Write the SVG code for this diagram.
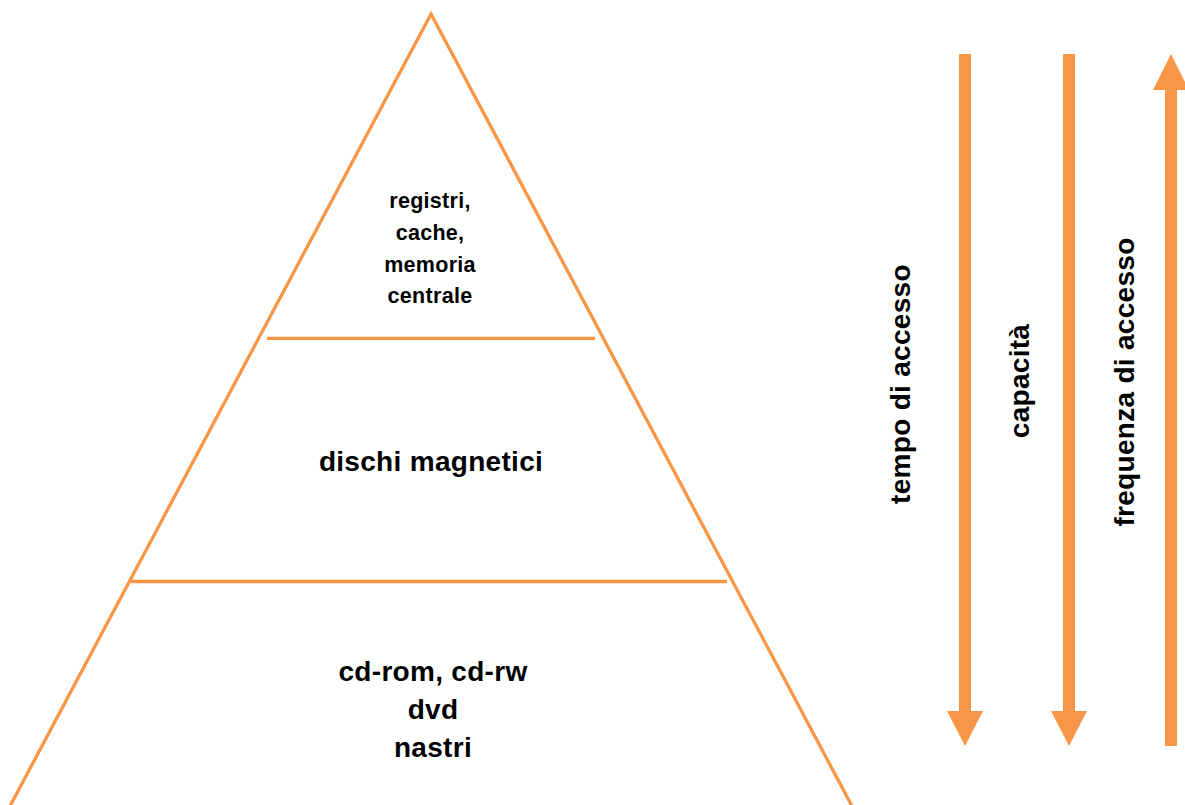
<svg xmlns="http://www.w3.org/2000/svg" width="1185" height="805" viewBox="0 0 1185 805">
<style>
.ln{stroke:#F79646;stroke-width:3.3;fill:none}
.ar{fill:#F79646}
.t{font-family:"Liberation Sans",Arial,sans-serif;font-weight:bold;fill:#000;text-anchor:middle}
.big{font-size:28px;letter-spacing:0.3px}
.sm{font-size:21.5px;letter-spacing:0.3px}
</style>
<rect width="1185" height="805" fill="#fff"/>
<g id="pyramid">
<polyline class="ln" points="9,808 431,14 853,808"/>
<line class="ln" x1="267" y1="338.3" x2="595" y2="338.3"/>
<line class="ln" x1="131" y1="581.5" x2="727" y2="581.5"/>
</g>
<g id="level-top">
<text class="t sm" x="430" y="208">registri,</text>
<text class="t sm" x="430" y="240">cache,</text>
<text class="t sm" x="430" y="272">memoria</text>
<text class="t sm" x="430" y="303">centrale</text>
</g>
<g id="level-middle">
<text class="t big" x="431" y="471">dischi magnetici</text>
</g>
<g id="level-bottom">
<text class="t big" x="433" y="681">cd-rom, cd-rw</text>
<text class="t big" x="433" y="719">dvd</text>
<text class="t big" x="433" y="757">nastri</text>
</g>
<g id="connectors">
<g id="arrow-tempo">
<rect class="ar" x="959" y="54" width="12" height="658"/>
<polygon class="ar" points="947,711 983,711 965,746"/>
</g>
<g id="arrow-capacita">
<rect class="ar" x="1063" y="54" width="12" height="658"/>
<polygon class="ar" points="1051,711 1087,711 1069,746"/>
</g>
<g id="arrow-frequenza">
<rect class="ar" x="1165" y="89" width="12" height="657"/>
<polygon class="ar" points="1153,90 1189,90 1171,54"/>
</g>
</g>
<g id="label-tempo">
<text class="t big" transform="translate(910,384) rotate(-90)">tempo di accesso</text>
</g>
<g id="label-capacita">
<text class="t big" transform="translate(1029,381) rotate(-90)">capacità</text>
</g>
<g id="label-frequenza">
<text class="t big" transform="translate(1134,382) rotate(-90)">frequenza di accesso</text>
</g>
</svg>
